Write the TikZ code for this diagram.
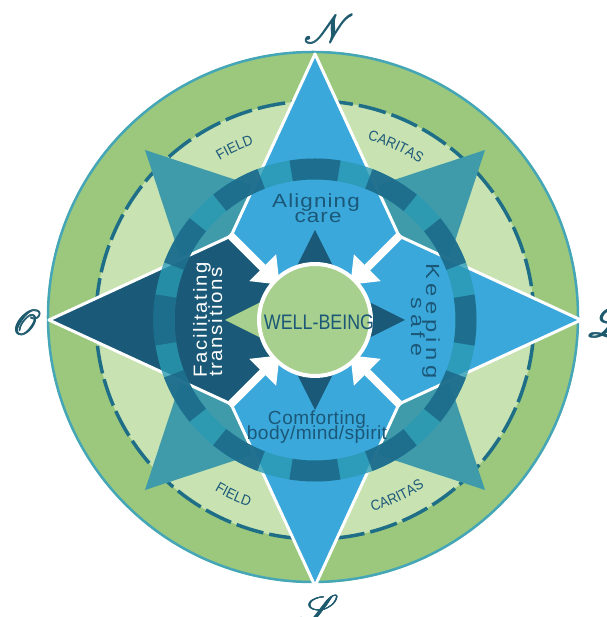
\documentclass[tikz,border=0pt]{standalone}
\usepackage{fontspec}
\usetikzlibrary{decorations.text}
\setmainfont{Liberation Sans}
\newfontfamily\labfont{Liberation Sans}
\newfontfamily\condfont[FakeStretch=0.85]{Liberation Sans}
\newfontfamily\arcfam[FakeStretch=0.92]{Liberation Sans}
\DeclareFontFamily{U}{myrsfs}{}
\DeclareFontShape{U}{myrsfs}{m}{n}{<-> rsfs10}{}
\newcommand\fatl[1]{\rlap{#1}\rlap{\raisebox{0.6pt}{#1}}\kern0.6pt\rlap{#1}\raisebox{0.6pt}{#1}}
\newcommand\wlab[3]{\scalebox{#1}[1]{\addfontfeatures{LetterSpace=#2}#3}}
\definecolor{gouter}{HTML}{9BC87D}
\definecolor{ginner}{HTML}{C8E2B2}
\definecolor{rimc}{HTML}{45A6B8}
\definecolor{dashc}{HTML}{1F6E87}
\definecolor{tealpt}{HTML}{3F9BAA}
\definecolor{lblue}{HTML}{3BA8DC}
\definecolor{navy}{HTML}{1A5A78}
\definecolor{ringc}{HTML}{2A9AB3}
\definecolor{ringd}{HTML}{1C6888}
\definecolor{cgreen}{HTML}{A7CF8E}
\definecolor{txtc}{HTML}{1B5878}
\definecolor{letc}{HTML}{1E5A6E}
\begin{document}
\begin{tikzpicture}[x=1pt,y=1pt,
  lbl/.style={inner sep=0pt, anchor=base, font=\labfont\fontsize{19}{19}\selectfont, text=txtc},
  compass/.style={inner sep=0pt, text=letc, font={\fontsize{40}{40}\usefont{U}{myrsfs}{m}{n}}},
  arcl/.style={decorate, decoration={text along path, text align=center,
     text={|\arcfam\fontsize{14.5}{14.5}\selectfont\color{txtc}|#1}}},
]
\useasboundingbox (-315,-297) rectangle (291,320);
\clip (-315,-297) rectangle (291,320);
% discs
\fill[gouter] (-2,3) circle[radius=266];
\draw[rimc, line width=2.5] (-2,3) circle[radius=265];
\fill[ginner] (0,0) circle[radius=219];
\draw[dashc, line width=3.5, dash pattern=on 28 off 6] (0,0) circle[radius=219];
% diagonal teal star
\fill[tealpt] (170,170) -- (0,114) -- (-170,170) -- (-114,0) -- (-170,-170) -- (0,-114) -- (170,-170) -- (114,0) -- cycle;
% main star
\fill[lblue] (0,266) -- (84,84) -- (0,0) -- (-84,84) -- cycle;
\fill[lblue] (266,0) -- (84,-84) -- (0,0) -- (84,84) -- cycle;
\fill[lblue] (0,-266) -- (-84,-84) -- (0,0) -- (84,-84) -- cycle;
\fill[navy] (-266,0) -- (-84,84) -- (0,0) -- (-84,-84) -- cycle;
\draw[white, line width=3, line join=round] (0,266) -- (84,84) -- (266,0) -- (84,-84) -- (0,-266) -- (-84,-84) -- (-266,0) -- (-84,84) -- cycle;
% ring
\draw[ringc, line width=21, opacity=0.8] (0,0) circle[radius=151];
\draw[ringd, line width=21, opacity=0.85, dash pattern=on 48 off 31.06, dash phase=24] (0,0) circle[radius=151];
% white arrows
\foreach \a in {45,135,225,315}{
  \begin{scope}[rotate=\a]
    \fill[white] (66,-4) -- (121,-4) -- (121,4) -- (66,4) -- cycle;
    \fill[white] (50,0) -- (74,19) -- (74,-19) -- cycle;
  \end{scope}
}
% small star
\fill[navy] (0,90) -- (30,30) -- (0,0) -- (-30,30) -- cycle;
\fill[navy] (90,0) -- (30,-30) -- (0,0) -- (30,30) -- cycle;
\fill[navy] (0,-90) -- (-30,-30) -- (0,0) -- (30,-30) -- cycle;
\fill[cgreen] (-90,0) -- (-30,30) -- (0,0) -- (-30,-30) -- cycle;
% center circle
\node[circle, fill=cgreen, draw=white, line width=4, minimum size=112, inner sep=0pt] (wbc) at (0,0) {};
\node[inner sep=0pt, anchor=base, font=\condfont\fontsize{21}{21}\selectfont, text=txtc] (wb) at (4,-10) {WELL-BEING};
% labels
\node[lbl] (al1) at (1,112) {\wlab{1.18}{5}{Aligning}};
\node[lbl] (al2) at (3,97) {\wlab{1.18}{5}{care}};
\node[lbl, rotate=-90] (ks1) at (111,-1) {\wlab{1.25}{20}{Keeping}};
\node[lbl, rotate=-90] (ks2) at (96,-7) {\wlab{1.23}{20}{safe}};
\node[lbl, rotate=90, text=white] (ft1) at (-108,0) {\wlab{1.07}{8}{Facilitating}};
\node[lbl, rotate=90, text=white] (ft2) at (-93,-2) {\wlab{1.08}{8}{transitions}};
\node[lbl] (cb1) at (2,-105) {\wlab{1.0}{3}{Comforting}};
\node[lbl] (cb2) at (2,-120) {\wlab{1.01}{2}{body/mind/spirit}};
% arc labels
\path[arcl=FIELD] (135:186) arc[start angle=135, end angle=95, radius=186];
\path[arcl=CARITAS] (85:188) arc[start angle=85, end angle=45, radius=188];
\path[arcl=FIELD] (-135:198) arc[start angle=-135, end angle=-95, radius=198];
\path[arcl=CARITAS] (-85:200) arc[start angle=-85, end angle=-45, radius=200];
% compass letters
\node[compass] (cn) at (7,291) {\fatl{N}};
\node[compass, font={\fontsize{35}{35}\usefont{U}{myrsfs}{m}{n}}] (co) at (-290,-3) {\fatl{O}};
\node[compass, anchor=west] (cl) at (273,-3) {\fatl{L}};
\node[compass, anchor=north] (cs) at (-1,-275) {\fatl{S}};
\end{tikzpicture}
\end{document}
